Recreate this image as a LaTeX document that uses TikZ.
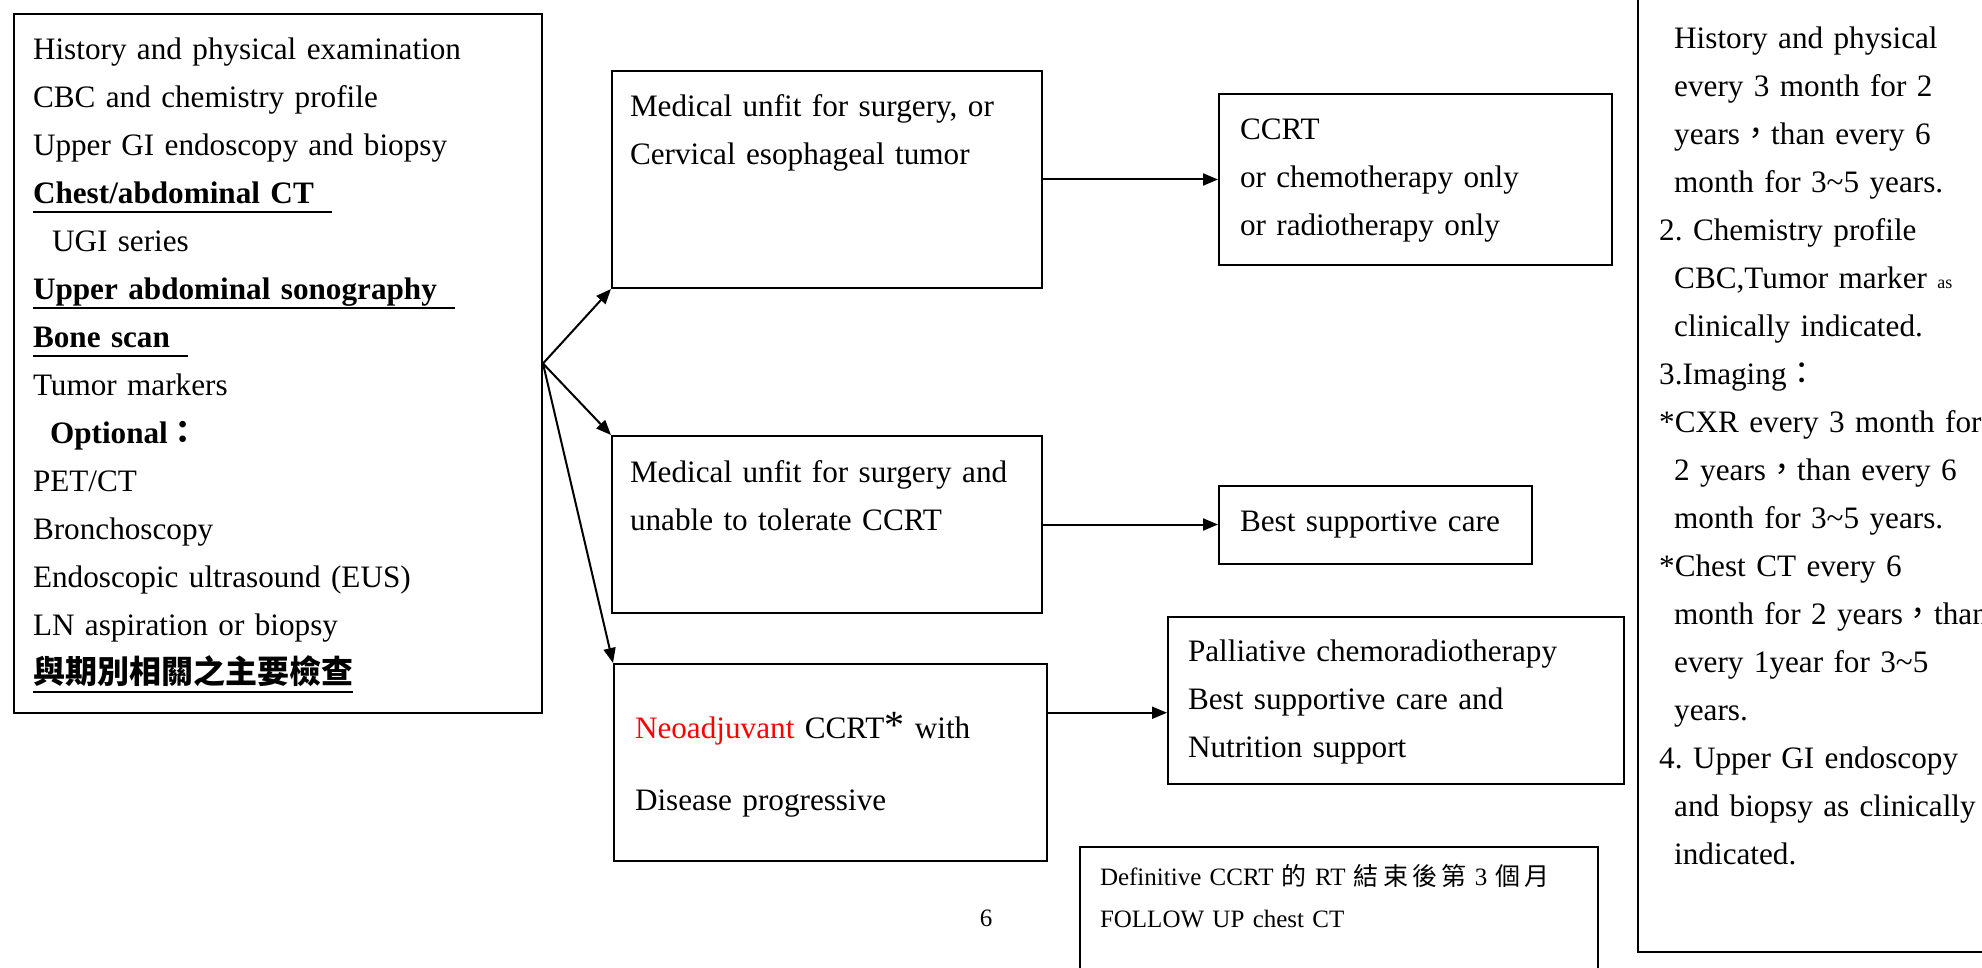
\documentclass[tikz,border=0pt]{standalone}
\usepackage{fontspec}
\setmainfont{Liberation Serif}
\newfontfamily\cjk{Noto Sans CJK TC}
\usepackage{xcolor}
\usetikzlibrary{arrows.meta,positioning,calc}
\definecolor{NeoRed}{HTML}{FF0000}
\frenchspacing
\newcommand{\mainsize}{\fontsize{15.6pt}{24pt}\selectfont}
\newcommand{\notesize}{\fontsize{12.5pt}{21pt}\selectfont}
\newcommand{\ind}{\hspace*{7.5pt}}
\newcommand{\fw}[1]{{\cjk #1}}
\newcommand{\ulined}[1]{\leavevmode\setbox0\hbox{#1}\rlap{\rule[-4.5pt]{\wd0}{1.2pt}}\box0}

\begin{document}
\begin{tikzpicture}[
    x=0.5pt,y=-0.5pt,
    box/.style={rectangle,draw,line width=1pt,anchor=north west,align=left,inner xsep=9pt,inner ysep=0pt,text height=23pt,font=\mainsize},
    arrow/.style={-{Triangle[length=7.5pt,width=6pt]},line width=1pt}
]
\useasboundingbox (0,0) rectangle (1982,968);
\clip (0,0) rectangle (1982,968);

% work-up
\node[box,text width=245pt,text depth=326.5pt,inner xsep=9.5pt] (work) at (13,13) {%
History and physical examination\\
CBC and chemistry profile\\
Upper GI endoscopy and biopsy\\
\ulined{\textbf{Chest/abdominal CT}\hspace{9pt}}\\
\hspace*{9.5pt}UGI series\\
\ulined{\textbf{Upper abdominal sonography}\hspace{9pt}}\\
\ulined{\textbf{Bone scan}\hspace{9pt}}\\
Tumor markers\\
\hspace*{8.5pt}\textbf{Optional{\cjk\bfseries ：}}\\
PET/CT\\
Bronchoscopy\\
Endoscopic ultrasound (EUS)\\
LN aspiration or biopsy\\
\ulined{\cjk\bfseries\fontsize{16pt}{24pt}\selectfont 與期別相關之主要檢查}};

% conditions
\node[box,text width=197pt,text depth=85.5pt] (unfitA) at (611,70) {Medical unfit for surgery, or\\Cervical esophageal tumor};
\node[box,text width=197pt,text depth=65.5pt] (unfitB) at (611,435) {Medical unfit for surgery and\\unable to tolerate CCRT};
\node[box,text width=195.5pt,text height=37pt,text depth=61.5pt,inner xsep=10.5pt] (neo) at (613,663)
  {{\color{NeoRed}Neoadjuvant} CCRT{\fontsize{20pt}{20pt}\selectfont *} with\\[12pt]Disease progressive};

% treatments
\node[box,right=87.5pt of unfitA,text width=175.5pt,text depth=62.5pt,inner xsep=10.5pt] (ccrt) {CCRT\\or chemotherapy only\\or radiotherapy only};
\node[box,right=87.5pt of unfitB,text width=135.5pt,text depth=16pt,inner xsep=10.5pt] (bsc) {Best supportive care};
\node[box,text width=208pt,text height=22pt,text depth=61.5pt,inner xsep=10pt] (pal) at (1167,616) {Palliative chemoradiotherapy\\Best supportive care and\\Nutrition support};
\node[box,font=\notesize,text width=239pt,text height=19pt,text depth=81pt,inner xsep=10pt] (defct) at (1079,846)
  {Definitive CCRT \fw{的} RT \fw{結\,束\,後\,第} 3 \fw{個\,月}\\FOLLOW UP chest CT};
\node[font=\notesize,anchor=base] (pagenum) at (986,926) {6};

% follow up
\node[box,line width=1.2pt,anchor=south west,text width=210pt,text height=55pt,text depth=451.5pt,inner xsep=10.5pt] (follow) at (1637,953) {%
\ind History and physical\\
\ind every 3 month for 2\\
\ind years\fw{，}than every 6\\
\ind month for 3\textasciitilde5 years.\\
2. Chemistry profile\\
\ind CBC,Tumor marker {\fontsize{9pt}{24pt}\selectfont as}\\
\ind clinically indicated.\\
3.Imaging\fw{：}\\
{*}CXR every 3 month for\\
\ind 2 years\fw{，}than every 6\\
\ind month for 3\textasciitilde5 years.\\
{*}Chest CT every 6\\
\ind month for 2 years\fw{，}than\\
\ind every 1year for 3\textasciitilde5\\
\ind years.\\
4. Upper GI endoscopy\\
\ind and biopsy as clinically\\
\ind indicated.};

\draw[arrow] (work.east) -- (unfitA.south west);
\draw[arrow] (work.east) -- (unfitB.north west);
\draw[arrow] (work.east) -- (neo.north west);
\draw[arrow] (unfitA.east) -- (ccrt.west);
\draw[arrow] (unfitB.east) -- (bsc.west);
\coordinate (neoout) at ($(neo.north east)!0.25!(neo.south east)$);
\draw[arrow] (neoout) -- (neoout -| pal.west);
\end{tikzpicture}
\end{document}
